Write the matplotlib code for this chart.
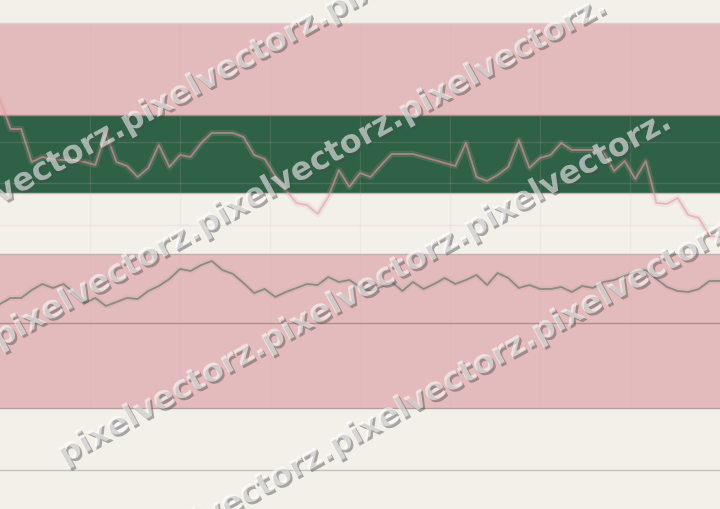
import numpy as np
import matplotlib
matplotlib.use("Agg")
import matplotlib.pyplot as plt
import matplotlib.patheffects as pe

# index = session step
upper_series = [409, 380, 380, 347, 352, 350, 349, 349, 347, 344,
                376, 347, 343, 332, 341, 364, 342, 354, 352, 366,
                376, 376, 376, 372, 354, 350, 333, 319, 306, 304,
                295, 312, 339, 322, 336, 332, 344, 355, 355, 355,
                352, 349, 346, 343, 366, 332, 328, 334, 342, 369,
                341, 351, 354, 366, 359, 359, 359, 357, 338, 348,
                330, 348, 306, 305, 311, 294, 291, 273, 272]
lower_series = [205, 211, 211, 219, 225, 221, 225, 216, 206, 211,
                203, 207, 211, 210, 218, 223, 230, 240, 238, 244,
                248, 239, 235, 226, 216, 220, 212, 217, 221, 225,
                224, 232, 227, 229, 222, 218, 222, 227, 218, 227,
                220, 225, 231, 225, 229, 234, 224, 236, 231, 221,
                224, 220, 220, 222, 217, 223, 221, 227, 229, 233,
                237, 239, 230, 222, 218, 217, 220, 228, 228]
steps = np.arange(len(upper_series))

# horizontal zones (low, high, colour)
zones = [(394, 486, '#E4BBBC'),
         (316, 394, '#2E6146'),
         (101, 255, '#E4BBBC')]
# separator levels and their colours
levels = [486, 394, 316, 255, 186, 101, 39]
level_colors = ['#D9D0C9', '#A98A86', '#C9B9B3', '#C4AFAB', '#AE8E8D', '#B49F9D', '#C6C1BB']
grid_levels = [367, 326, 284]
grid_steps = [8.5, 17, 25.5, 34, 42.5, 51, 59.5]

wm_text = 'pixelvectorz.' * 3
# watermark strip start points (figure pixels)
wm_x = [-80, -5, 60, 128]
wm_y = [239, 341, 457, 561]

cream = '#F3F0EA'

fig = plt.figure(figsize=(7.2, 5.09), dpi=100, facecolor=cream)
ax = fig.add_axes([0, 0, 1, 1])
ax.set_facecolor(cream)
ax.set_xlim(0, 68)
ax.set_ylim(0, 509)
ax.axis('off')

for lo, hi, c in zones:
    ax.axhspan(lo, hi, color=c, lw=0, zorder=1)

for g in grid_levels:
    ax.axhline(g, color=(0.86, 0.70, 0.70), alpha=0.18, lw=1, zorder=2)
ax.vlines(grid_steps, 101, 486, color=(0.86, 0.70, 0.70), alpha=0.14, lw=1, zorder=2)

for lv, c in zip(levels, level_colors):
    ax.axhline(lv, color=c, lw=1, zorder=3)

ax.plot(steps, upper_series, color='#E19DA2', alpha=0.6, lw=1.3, zorder=4,
        path_effects=[pe.Stroke(linewidth=4.5, foreground='#E19DA2', alpha=0.18), pe.Normal()])
ax.plot(steps, lower_series, color='#8C8A82', lw=1.3, zorder=4,
        path_effects=[pe.Stroke(linewidth=4, foreground='#B0A0A0', alpha=0.2), pe.Normal()])

for x, y in zip(wm_x, wm_y):
    fig.text(x / 720, 1 - y / 509, wm_text, fontsize=23, fontweight='bold',
             family='DejaVu Sans', color=(1, 1, 1, 0.55), rotation=29,
             rotation_mode='anchor', ha='left', va='center', zorder=10,
             path_effects=[pe.SimplePatchShadow(offset=(1.6, -1.6), shadow_rgbFace='#4A4A4A', alpha=0.45),
                           pe.Normal()])

fig.savefig('out.png', dpi=100, facecolor=cream)
